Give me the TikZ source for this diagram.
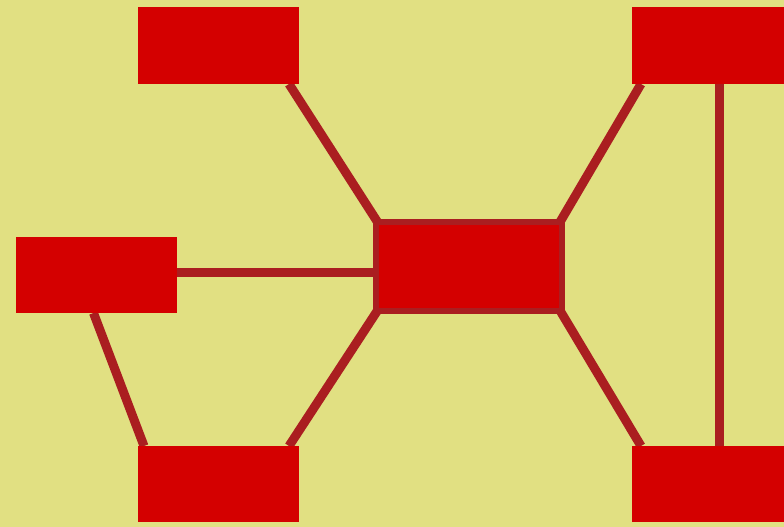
\documentclass[tikz,border=0pt]{standalone}
\usetikzlibrary{backgrounds}
\definecolor{bgyel}{RGB}{225,224,130}
\definecolor{boxred}{RGB}{212,0,0}
\definecolor{linkred}{RGB}{170,30,32}
\tikzset{
  box/.style={rectangle, fill=boxred, minimum width=161pt, minimum height=76pt, inner sep=0pt, outer sep=0pt},
  hub/.style={rectangle, fill=boxred, draw=linkred, line width=6pt, minimum width=186.5pt, minimum height=88.5pt, inner sep=0pt, outer sep=0pt},
  link/.style={draw=linkred, line width=9pt}
}
\begin{document}
\begin{tikzpicture}[x=1pt,y=-1pt]
\useasboundingbox (0,0) rectangle (784,527);
\clip (0,0) rectangle (784,527);
\node[box, minimum height=77pt] (A) at (218.5,45.5) {};
\node[box] (B) at (96.5,275) {};
\node[box] (C) at (218.5,484) {};
\node[hub] (D) at (468.75,266.25) {};
\node[box, minimum height=77pt] (E) at (712.5,45.5) {};
\node[box] (F) at (712.5,484) {};
\coordinate (bd) at ([yshift=3pt]B.east);
\coordinate (ef) at ([xshift=6.5pt]E.south);
\begin{pgfonlayer}{background}
\fill[bgyel] (0,0) rectangle (784,527);
\draw[link] ([xshift=-10pt]A.south east) -- ([xshift=2pt]D.north west);
\draw[link] ([xshift=-10pt]C.north east) -- ([xshift=2pt]D.south west);
\draw[link] (bd) -- (bd -| D.west);
\draw[link] ([xshift=-3pt]B.south) -- ([xshift=6pt]C.north west);
\draw[link] ([xshift=-2pt]D.north east) -- ([xshift=9pt]E.south west);
\draw[link] ([xshift=-2pt]D.south east) -- ([xshift=9pt]F.north west);
\draw[link] (ef) -- (ef |- F.north);
\end{pgfonlayer}
\end{tikzpicture}
\end{document}
